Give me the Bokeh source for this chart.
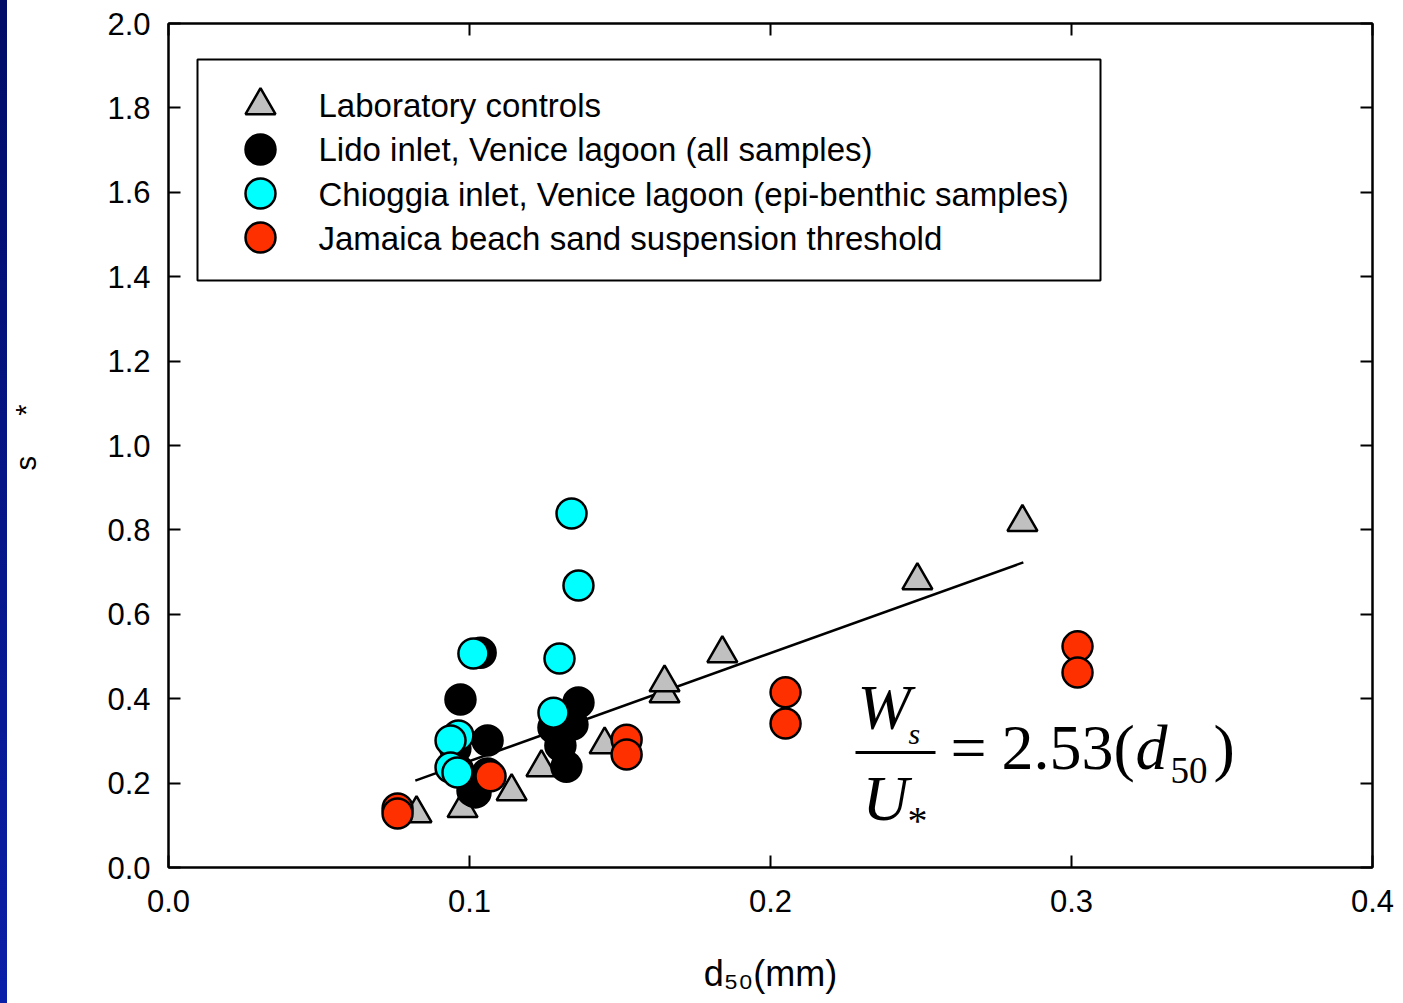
from bokeh.plotting import figure
from bokeh.models import Range1d, LinearAxis, Label, Div, FixedTicker, PrintfTickFormatter
from bokeh.layouts import row
from bokeh.embed import file_html
from bokeh.resources import INLINE

# ---------------- data ----------------
series_names = [
    "Laboratory controls",
    "Lido inlet, Venice lagoon (all samples)",
    "Chioggia inlet, Venice lagoon (epi-benthic samples)",
    "Jamaica beach sand suspension threshold",
]

lab_d50 = [0.0824, 0.0977, 0.114, 0.1239, 0.1449, 0.1648, 0.1648, 0.184, 0.2488, 0.2837]
lab_ratio = [0.128, 0.140, 0.180, 0.237, 0.291, 0.412, 0.438, 0.507, 0.680, 0.818]

lido_d50 = [0.0970, 0.1037, 0.1060, 0.0953, 0.1010, 0.1020, 0.1060, 0.0963,
            0.1362, 0.1342, 0.1279, 0.1302, 0.1322]
lido_ratio = [0.398, 0.509, 0.301, 0.282, 0.182, 0.178, 0.223, 0.230,
              0.391, 0.339, 0.332, 0.289, 0.239]

chioggia_d50 = [0.1339, 0.1362, 0.1299, 0.1013, 0.1279, 0.0963, 0.0937, 0.0937, 0.0960]
chioggia_ratio = [0.839, 0.668, 0.495, 0.507, 0.367, 0.313, 0.301, 0.237, 0.225]

jamaica_d50 = [0.0761, 0.0761, 0.1070, 0.1522, 0.1522, 0.2050, 0.2050, 0.3020, 0.3020]
jamaica_ratio = [0.140, 0.128, 0.216, 0.303, 0.268, 0.415, 0.341, 0.524, 0.462]

fit_d50 = [0.082, 0.284]
fit_ratio = [0.206, 0.723]

x_ticks = [0.0, 0.1, 0.2, 0.3, 0.4]
y_ticks = [0.0, 0.2, 0.4, 0.6, 0.8, 1.0, 1.2, 1.4, 1.6, 1.8, 2.0]

x_title = "d\u2085\u2080(mm)"
y_title = "\u00a0\u00a0s\u00a0\u00a0\u00a0\u00a0\u00a0*"

# ---------------- styles ----------------
FONT = "Liberation Sans"
SERIF = "Liberation Serif"
GRAY = "#c0c0c0"
CYAN = "#00ffff"
RED = "#ff3000"
MS = 30
LW = 2.5

FW, FH = 1204, 844

p = figure(
    frame_width=FW, frame_height=FH,
    min_border_left=161, min_border_right=31, min_border_top=23, min_border_bottom=136,
    x_range=Range1d(0, 0.4), y_range=Range1d(0, 2.0),
    output_backend="svg", toolbar_location=None,
)
p.extra_x_ranges["px"] = Range1d(0, FW)
p.extra_y_ranges["px"] = Range1d(FH, 0)

p.grid.visible = False
p.outline_line_color = "black"
p.outline_line_width = 2
p.background_fill_color = "white"
p.border_fill_color = "white"

for ax in p.xaxis:
    ax.ticker = FixedTicker(ticks=x_ticks)
for ax in p.yaxis:
    ax.ticker = FixedTicker(ticks=y_ticks)

for ax in p.axis:
    ax.formatter = PrintfTickFormatter(format="%.1f")
    ax.major_tick_in = 12
    ax.major_tick_out = 0
    ax.minor_tick_in = 0
    ax.minor_tick_out = 0
    ax.axis_line_width = 2
    ax.major_tick_line_width = 2
    ax.major_label_text_font = FONT
    ax.major_label_text_font_size = "31px"
    ax.major_label_text_color = "black"
    ax.axis_label_text_font = FONT
    ax.axis_label_text_font_style = "normal"
    ax.axis_label_text_color = "black"
p.xaxis.major_label_standoff = 22
p.yaxis.major_label_standoff = 18

p.xaxis.axis_label = x_title
p.xaxis.axis_label_text_font_size = "36px"
p.xaxis.axis_label_standoff = 38

p.yaxis.axis_label = y_title
p.yaxis.axis_label_text_font_size = "29px"
p.yaxis.axis_label_standoff = 62

top = LinearAxis(ticker=FixedTicker(ticks=x_ticks), major_tick_in=12, major_tick_out=0,
                 minor_tick_in=0, minor_tick_out=0, major_label_text_color=None,
                 axis_line_width=2, major_tick_line_width=2)
right = LinearAxis(ticker=FixedTicker(ticks=y_ticks), major_tick_in=12, major_tick_out=0,
                   minor_tick_in=0, minor_tick_out=0, major_label_text_color=None,
                   axis_line_width=2, major_tick_line_width=2)
p.add_layout(top, "above")
p.add_layout(right, "right")

# fit line (drawn beneath the markers)
p.line(fit_d50, fit_ratio, line_color="black", line_width=2.5)

p.scatter(lab_d50, lab_ratio, marker="triangle", size=MS, fill_color=GRAY,
          line_color="black", line_width=LW)
p.scatter(lido_d50, lido_ratio, marker="circle", size=MS, fill_color="black",
          line_color="black", line_width=LW)
p.scatter(chioggia_d50, chioggia_ratio, marker="circle", size=MS, fill_color=CYAN,
          line_color="black", line_width=LW)
p.scatter(jamaica_d50, jamaica_ratio, marker="circle", size=MS, fill_color=RED,
          line_color="black", line_width=LW)

# ---------------- legend (frame pixel coordinates) ----------------
p.quad(left=[29], right=[932], top=[36], bottom=[257], fill_color="white",
       line_color="black", line_width=2, x_range_name="px", y_range_name="px")
leg_markers = ["triangle", "circle", "circle", "circle"]
leg_fills = [GRAY, "black", CYAN, RED]
leg_y = [82, 126, 170, 214]
p.scatter([92] * 4, leg_y, marker=leg_markers, size=MS, fill_color=leg_fills,
          line_color="black", line_width=LW, x_range_name="px", y_range_name="px")
for name, yb in zip(series_names, [82, 126, 171, 215]):
    p.add_layout(Label(x=150, y=yb, text=name, x_range_name="px", y_range_name="px",
                       text_font=FONT, text_font_size="33px", text_color="black",
                       text_baseline="alphabetic", text_align="left"))

# ---------------- formula ----------------
def lab(x, y, t, size, style="normal", font=SERIF):
    p.add_layout(Label(x=x, y=y, text=t, x_range_name="px", y_range_name="px",
                       text_font=font, text_font_size=size, text_font_style=style,
                       text_color="black", text_baseline="alphabetic", text_align="left"))

lab(689, 684, "W", "64px", "italic")
lab(740, 710, "s", "30px", "italic")
p.line([687, 767], [729, 729], line_color="black", line_width=3,
       x_range_name="px", y_range_name="px")
lab(694, 775, "U", "64px", "italic")
lab(739, 797, "*", "40px")
lab(782, 724, "=", "64px")
lab(833, 724, "2.53(", "64px")
lab(967, 724, "d", "64px", "italic")
lab(1002, 747, "50", "37px")
lab(1045, 724, ")", "64px")

strip = Div(width=7, height=1003, margin=0,
            styles={"background": "linear-gradient(to bottom, #000c66, #0a1fa8)"})

layout = row(strip, p, spacing=0)
open("out.html", "w").write(file_html(layout, INLINE))
